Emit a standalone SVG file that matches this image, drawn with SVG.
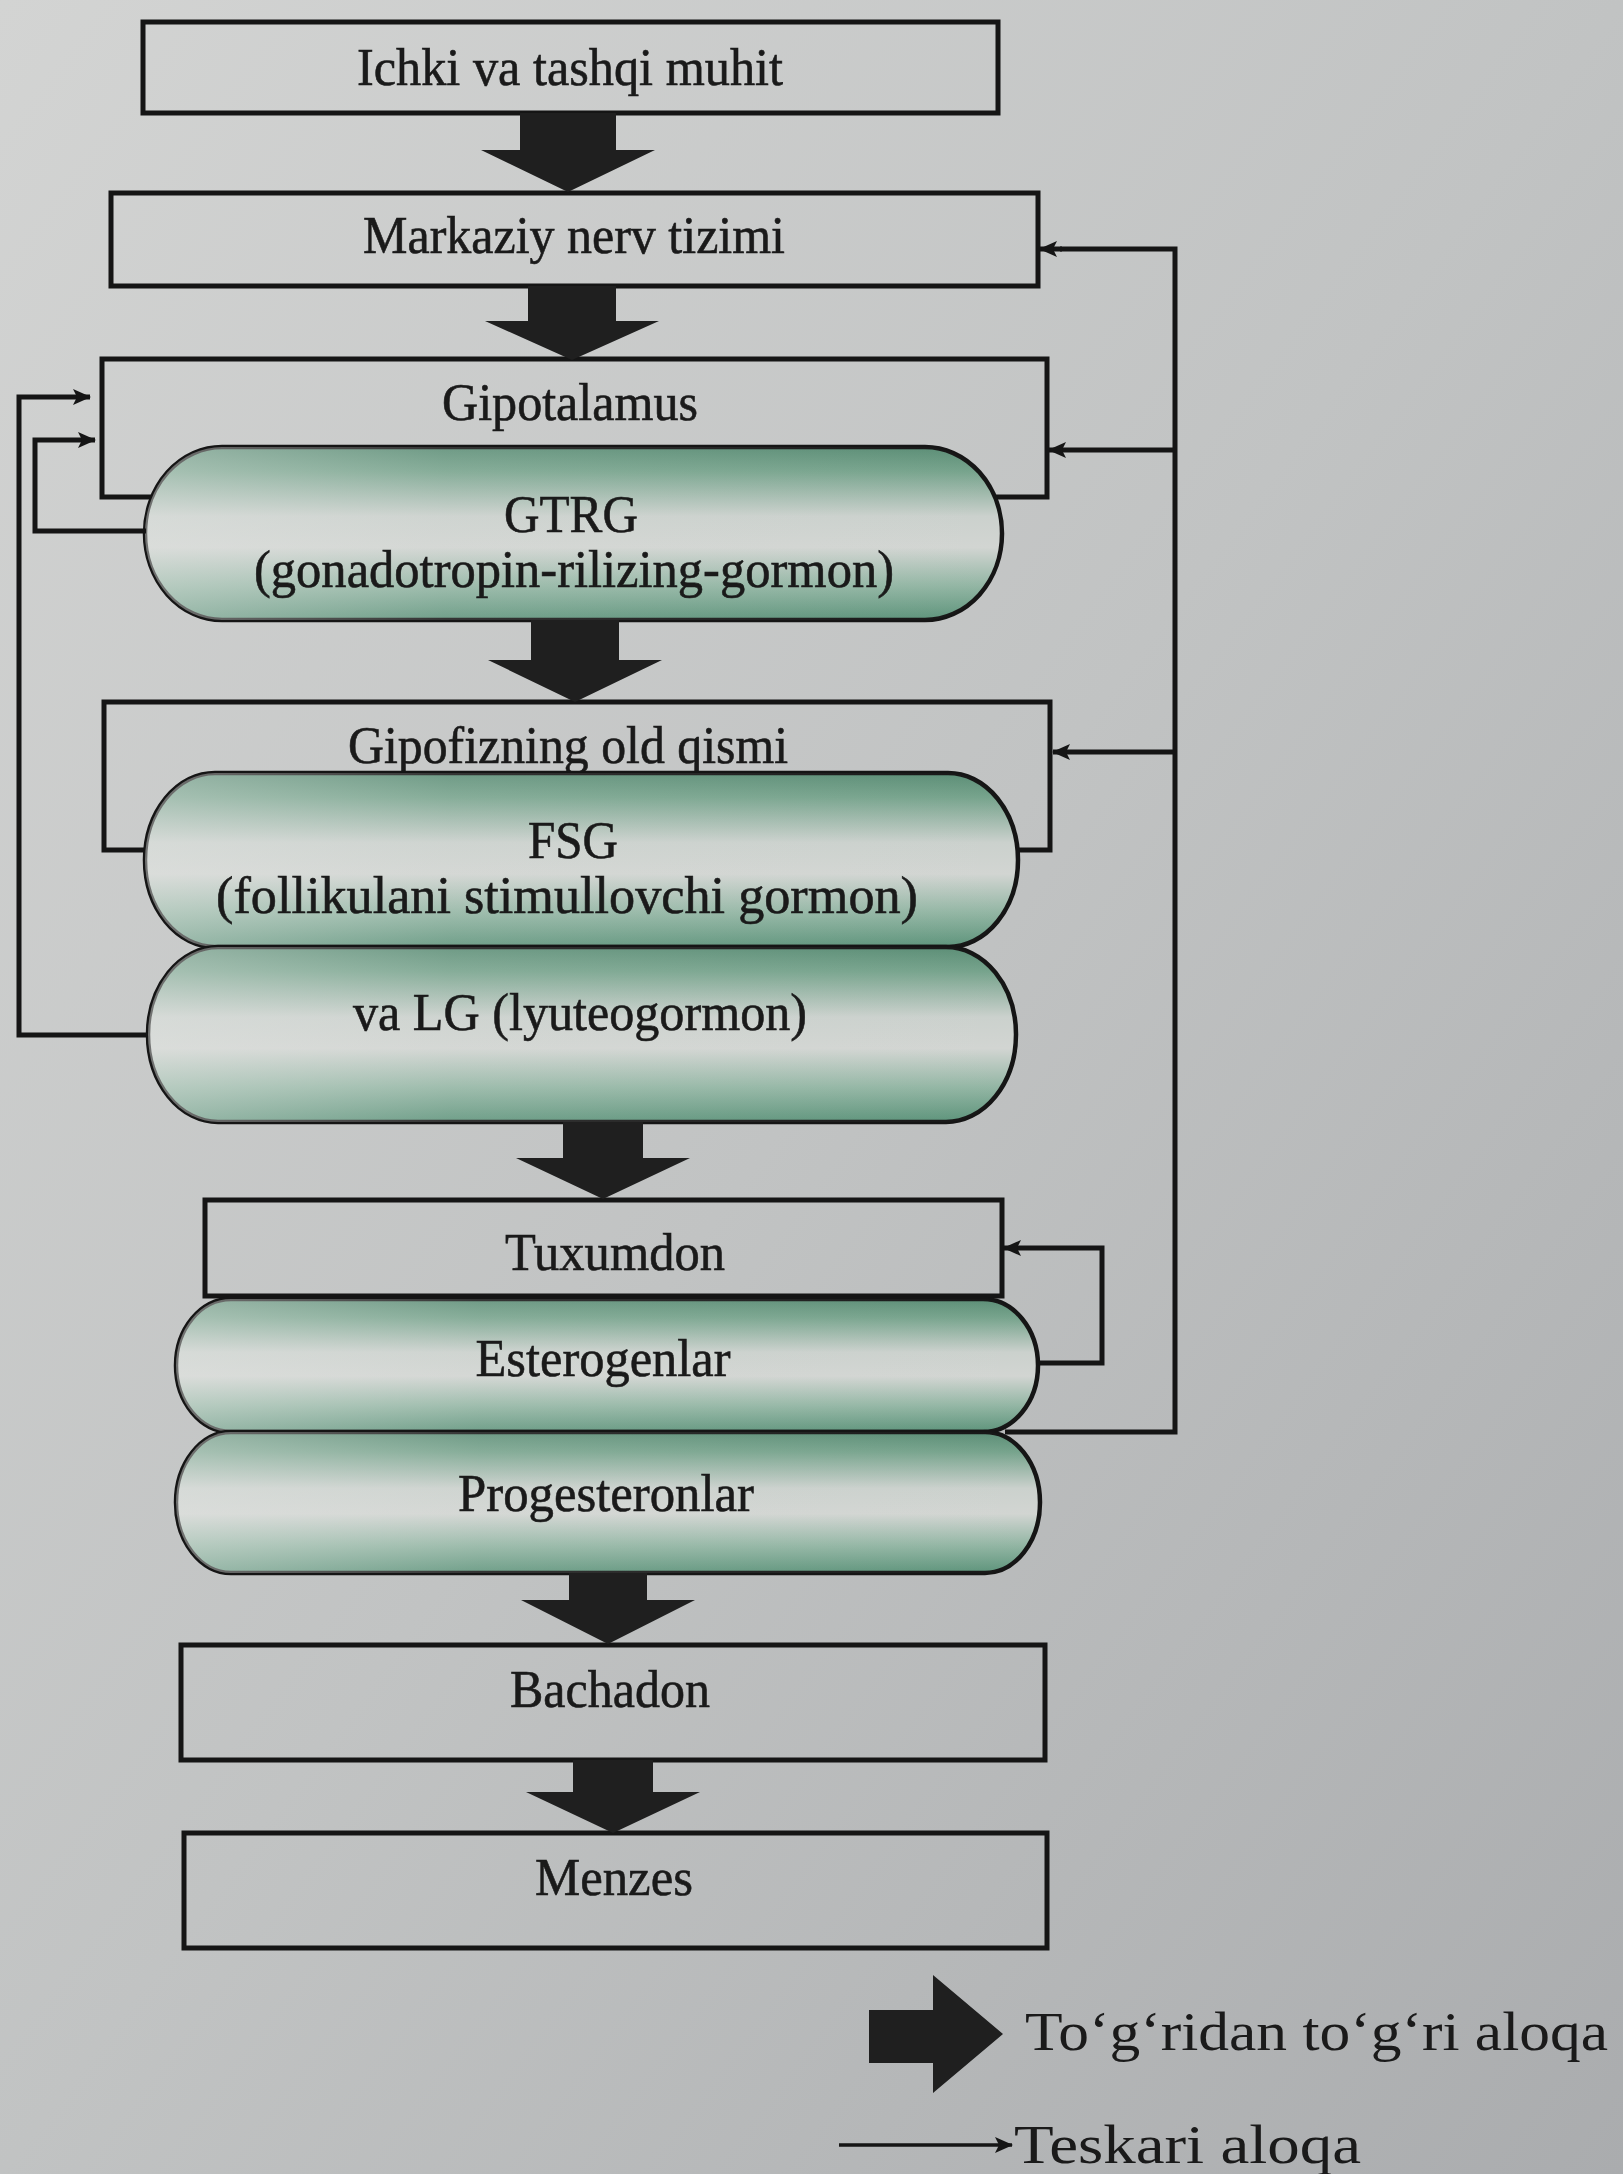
<svg xmlns="http://www.w3.org/2000/svg" width="1623" height="2174" viewBox="0 0 1623 2174">
  <defs>
    <linearGradient id="bg" x1="0" y1="0" x2="1" y2="1">
      <stop offset="0" stop-color="#d3d4d3"/>
      <stop offset="0.5" stop-color="#c1c3c3"/>
      <stop offset="1" stop-color="#aaacae"/>
    </linearGradient>
    <linearGradient id="pill" x1="0" y1="0" x2="0" y2="1">
      <stop offset="0" stop-color="#5a8d75"/>
      <stop offset="0.14" stop-color="#76a38c"/>
      <stop offset="0.4" stop-color="#cbd1cd"/>
      <stop offset="0.58" stop-color="#d2d5d2"/>
      <stop offset="0.8" stop-color="#93b6a4"/>
      <stop offset="1" stop-color="#5c937a"/>
    </linearGradient>
    <linearGradient id="pillSheen" x1="0" y1="0" x2="1" y2="0">
      <stop offset="0" stop-color="#e4e6e4" stop-opacity="0.45"/>
      <stop offset="0.35" stop-color="#e4e6e4" stop-opacity="0.15"/>
      <stop offset="1" stop-color="#e4e6e4" stop-opacity="0"/>
    </linearGradient>
    <marker id="fb" viewBox="0 0 18 16" refX="17" refY="8" markerWidth="18" markerHeight="16" markerUnits="userSpaceOnUse" orient="auto">
      <path d="M0,0 L18,8 L0,16 L4,8 z" fill="#151515"/>
    </marker>
    <style>
      .box { fill: none; stroke: #151515; stroke-width: 5; }
      .pill { fill: url(#pill); stroke: #151515; stroke-width: 4.5; }
      .sheen { fill: url(#pillSheen); stroke: none; }
      .lbl { font-family: "Liberation Serif", "Times New Roman", serif; font-size: 53px; fill: #1a1a1a; stroke: #1a1a1a; stroke-width: 0.6; text-anchor: middle; }
      .leg { font-family: "Liberation Serif", "Times New Roman", serif; font-size: 54px; fill: #1a1a1a; }
      .blk { fill: #1f1f1f; stroke: none; }
      .fbl { fill: none; stroke: #151515; stroke-width: 5; stroke-linejoin: miter; }
      .fba { fill: none; stroke: #151515; stroke-width: 5; marker-end: url(#fb); }
      .fbt { fill: none; stroke: #151515; stroke-width: 3.5; marker-end: url(#fb); }
    </style>
  </defs>

  <rect x="0" y="0" width="1623" height="2174" fill="url(#bg)"/>

  <g id="n-ichki">
    <rect class="box" x="143" y="22" width="855" height="91"/>
    <text class="lbl" x="570" y="85" textLength="426" lengthAdjust="spacingAndGlyphs">Ichki va tashqi muhit</text>
  </g>

  <g id="n-mnt">
    <rect class="box" x="111" y="193" width="927" height="93"/>
    <text class="lbl" x="574" y="253" textLength="422" lengthAdjust="spacingAndGlyphs">Markaziy nerv tizimi</text>
  </g>

  <g id="n-gipotalamus">
    <rect class="box" x="102" y="359" width="945" height="138"/>
    <text class="lbl" x="570" y="420" textLength="256" lengthAdjust="spacingAndGlyphs">Gipotalamus</text>
  </g>

  <g id="n-gtrg">
    <rect class="pill" x="145" y="447" width="857" height="173" rx="77" ry="86.5"/>
    <rect class="sheen" x="145" y="447" width="857" height="173" rx="77" ry="86.5"/>
    <text class="lbl" x="571" y="532" textLength="134" lengthAdjust="spacingAndGlyphs">GTRG</text>
    <text class="lbl" x="574" y="587" textLength="640" lengthAdjust="spacingAndGlyphs">(gonadotropin-rilizing-gormon)</text>
  </g>

  <g id="n-gipofiz">
    <rect class="box" x="104" y="702" width="946" height="148"/>
    <text class="lbl" x="568" y="763" textLength="440" lengthAdjust="spacingAndGlyphs">Gipofizning old qismi</text>
  </g>

  <g id="n-fsg">
    <rect class="pill" x="145" y="773" width="873" height="174" rx="70" ry="87"/>
    <rect class="sheen" x="145" y="773" width="873" height="174" rx="70" ry="87"/>
    <text class="lbl" x="573" y="858" textLength="90" lengthAdjust="spacingAndGlyphs">FSG</text>
    <text class="lbl" x="567" y="913" textLength="702" lengthAdjust="spacingAndGlyphs">(follikulani stimullovchi gormon)</text>
  </g>

  <g id="n-lg">
    <rect class="pill" x="148" y="947" width="868" height="175" rx="70" ry="87.5"/>
    <rect class="sheen" x="148" y="947" width="868" height="175" rx="70" ry="87.5"/>
    <text class="lbl" x="580" y="1030" textLength="454" lengthAdjust="spacingAndGlyphs">va LG (lyuteogormon)</text>
  </g>

  <g id="n-tuxumdon">
    <rect class="box" x="205" y="1200" width="797" height="96"/>
    <text class="lbl" x="615" y="1270" textLength="220" lengthAdjust="spacingAndGlyphs">Tuxumdon</text>
  </g>

  <g id="n-esterogenlar">
    <rect class="pill" x="176" y="1299" width="862" height="133" rx="55" ry="66.5"/>
    <rect class="sheen" x="176" y="1299" width="862" height="133" rx="55" ry="66.5"/>
    <text class="lbl" x="603" y="1376" textLength="255" lengthAdjust="spacingAndGlyphs">Esterogenlar</text>
  </g>

  <g id="n-progesteronlar">
    <rect class="pill" x="176" y="1432" width="864" height="141" rx="55" ry="70.5"/>
    <rect class="sheen" x="176" y="1432" width="864" height="141" rx="55" ry="70.5"/>
    <text class="lbl" x="606" y="1511" textLength="296" lengthAdjust="spacingAndGlyphs">Progesteronlar</text>
  </g>

  <g id="n-bachadon">
    <rect class="box" x="181" y="1645" width="864" height="115"/>
    <text class="lbl" x="610" y="1707" textLength="200" lengthAdjust="spacingAndGlyphs">Bachadon</text>
  </g>

  <g id="n-menzes">
    <rect class="box" x="184" y="1833" width="863" height="115"/>
    <text class="lbl" x="614" y="1895" textLength="158" lengthAdjust="spacingAndGlyphs">Menzes</text>
  </g>

  <g id="connectors">
    <!-- direct (block) arrows -->
    <polygon class="blk" points="520,113 616,113 616,150 655,150 568,192 481,150 520,150"/>
    <polygon class="blk" points="528,286 616,286 616,321 659,321 572,360 485,321 528,321"/>
    <polygon class="blk" points="531,620 619,620 619,660 662,660 575,702 488,660 531,660"/>
    <polygon class="blk" points="563,1122 643,1122 643,1158 690,1158 603,1199 516,1158 563,1158"/>
    <polygon class="blk" points="569,1573 647,1573 647,1600 695,1600 608,1644 521,1600 569,1600"/>
    <polygon class="blk" points="573,1760 653,1760 653,1792 700,1792 613,1833 526,1792 573,1792"/>

    <!-- feedback: ovaries -> CNS, hypothalamus, pituitary -->
    <path class="fbl" d="M1005,1432 H1175 V249 H1060"/>
    <path class="fba" d="M1062,249 H1040"/>
    <path class="fba" d="M1175,450 H1049"/>
    <path class="fba" d="M1175,752 H1053"/>
    <!-- feedback: estrogens -> ovary -->
    <path class="fbl" d="M1038,1363 H1102 V1248 H1030"/>
    <path class="fba" d="M1030,1248 H1004"/>
    <!-- left feedback: LG/FSG -> hypothalamus -->
    <path class="fba" d="M148,1035 H19 V397 H90"/>
    <!-- left feedback: GTRG -> hypothalamus -->
    <path class="fba" d="M146,531 H35 V440 H95"/>
  </g>

  <g id="legend">
    <polygon class="blk" points="869,2010 933,2010 933,1975 1003,2034 933,2093 933,2063 869,2063"/>
    <text class="leg" x="1025" y="2050" textLength="583" lengthAdjust="spacingAndGlyphs">To‘g‘ridan  to‘g‘ri  aloqa</text>
    <path class="fbt" d="M839,2145 H1012"/>
    <text class="leg" x="1014" y="2163" textLength="347" lengthAdjust="spacingAndGlyphs">Teskari  aloqa</text>
  </g>
</svg>
